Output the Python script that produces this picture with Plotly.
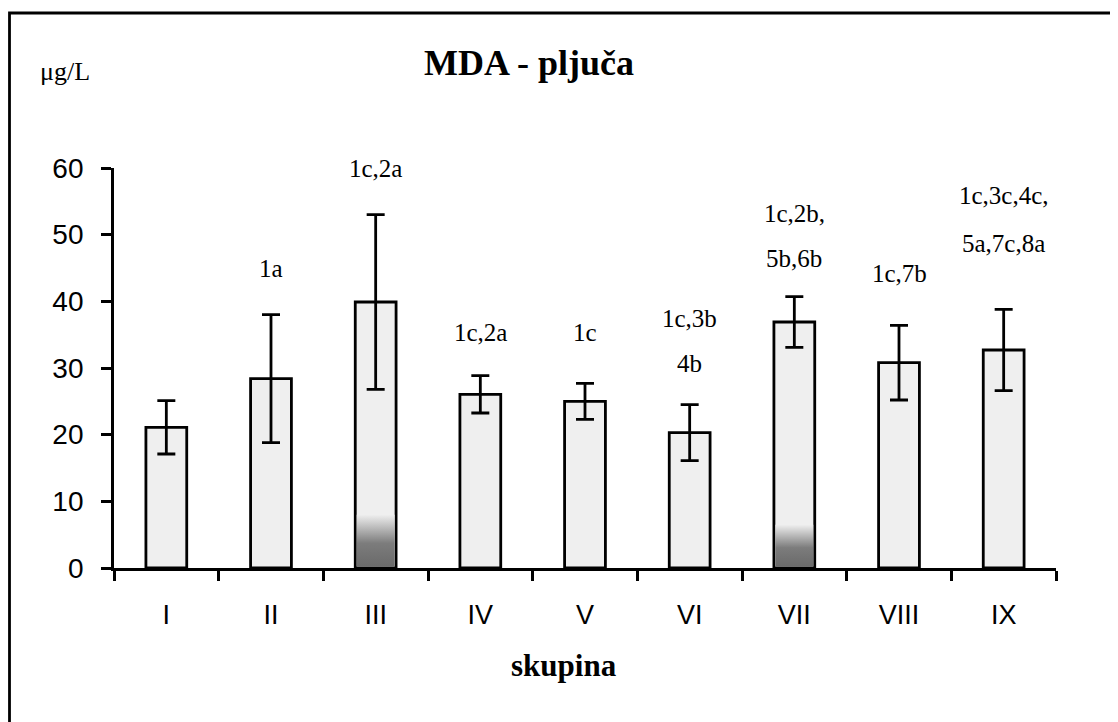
import plotly.graph_objects as go

# ---- data ----
groups = ["I", "II", "III", "IV", "V", "VI", "VII", "VIII", "IX"]
means = [21.1, 28.4, 39.9, 26.05, 25.0, 20.3, 36.9, 30.8, 32.7]
errors = [4.0, 9.6, 13.1, 2.8, 2.7, 4.2, 3.8, 5.6, 6.1]
sig_lines = [[], ["1a"], ["1c,2a"], ["1c,2a"], ["1c"], ["1c,3b", "4b"],
             ["1c,2b,", "5b,6b"], ["1c,7b"], ["1c,3c,4c,", "5a,7c,8a"]]
sig_line_y = [[], [44.9], [60.0], [35.3], [35.4], [37.4, 30.65],
              [53.15, 46.4], [44.25], [55.9, 48.75]]
shaded_groups = ["III", "VII"]
shade_top = [8.0, 6.5]
y_ticks = [0, 10, 20, 30, 40, 50, 60]

# page offset (browser body margin) and figure geometry
OFF = 8
W, H = 1118 - OFF, 722 - OFF
ML, MR, MT, MB = 106, 62, 160, 154
PW, PH = W - ML - MR, H - MT - MB

BAR_W = 0.39
SERIF = "Liberation Serif"
SANS = "Liberation Sans"


def px_x(p):
    return (p - OFF - ML) / PW


def px_y(p):
    return (H - MB - (p - OFF)) / PH


fig = go.Figure()
fig.add_trace(go.Bar(
    x=groups, y=means, width=BAR_W,
    marker=dict(color="#efefef", line=dict(color="black", width=2.8)),
    error_y=dict(type="data", array=errors, visible=True,
                 color="black", thickness=2.8, width=9),
    showlegend=False, hoverinfo="skip"))

# dark gradient at the bottom of some bars (artefact of the original)
for g, top in zip(shaded_groups, shade_top):
    i = groups.index(g)
    hw = BAR_W / 2 - 0.014
    fig.add_trace(go.Scatter(
        x=[i - hw, i + hw, i + hw, i - hw, i - hw],
        y=[0.2, 0.2, top, top, 0.2],
        xaxis="x2", yaxis="y",
        mode="lines", line=dict(width=0), fill="toself",
        fillgradient=dict(type="vertical",
                          colorscale=[[0, "#6a6a6a"], [0.45, "#7c7c7c"], [1, "#efefef"]]),
        showlegend=False, hoverinfo="skip"))

for g, lines, ys in zip(groups, sig_lines, sig_line_y):
    for txt, yy in zip(lines, ys):
        fig.add_annotation(x=g, y=yy, text=txt, showarrow=False,
                           font=dict(family=SERIF, size=25, color="black"),
                           xanchor="center", yanchor="middle")

fig.add_annotation(x=px_x(422), y=px_y(63), xref="paper", yref="paper",
                   text="<b>MDA - pljuča</b>", showarrow=False,
                   font=dict(family=SERIF, size=36, color="black"),
                   xanchor="left", yanchor="middle")
fig.add_annotation(x=px_x(38), y=px_y(71), xref="paper", yref="paper",
                   text="μg/L", showarrow=False,
                   font=dict(family=SERIF, size=26, color="black"),
                   xanchor="left", yanchor="middle")
fig.add_annotation(x=px_x(564), y=px_y(665), xref="paper", yref="paper",
                   text="<b>skupina</b>", showarrow=False,
                   font=dict(family=SERIF, size=31, color="black"),
                   xanchor="center", yanchor="middle")

# outer frame
fig.add_shape(type="rect", xref="paper", yref="paper",
              x0=px_x(9.5), x1=px_x(1118 + 30), y0=px_y(722 + 30), y1=px_y(13),
              line=dict(color="black", width=2.8), fillcolor="rgba(0,0,0,0)",
              layer="below")

fig.update_layout(
    width=W, height=H,
    margin=dict(l=ML, r=MR, t=MT, b=MB, pad=0),
    paper_bgcolor="white", plot_bgcolor="white",
    xaxis=dict(type="category", showline=True, linecolor="black", linewidth=2.8,
               ticks="outside", tickson="boundaries", ticklen=10, tickwidth=2.5,
               tickcolor="black", showgrid=False, zeroline=False,
               tickfont=dict(family=SANS, size=27, color="black"),
               ticklabelstandoff=21, range=[-0.5, 8.5]),
    xaxis2=dict(overlaying="x", range=[-0.5, 8.5], visible=False),
    yaxis=dict(range=[0, 60], tickvals=y_ticks, showline=True, linecolor="black",
               linewidth=2.8, ticks="outside", ticklen=10, tickwidth=2.5,
               tickcolor="black", showgrid=False, zeroline=False,
               tickfont=dict(family=SANS, size=28, color="black"),
               ticklabelstandoff=12),
)

fig.write_html("out.html")
